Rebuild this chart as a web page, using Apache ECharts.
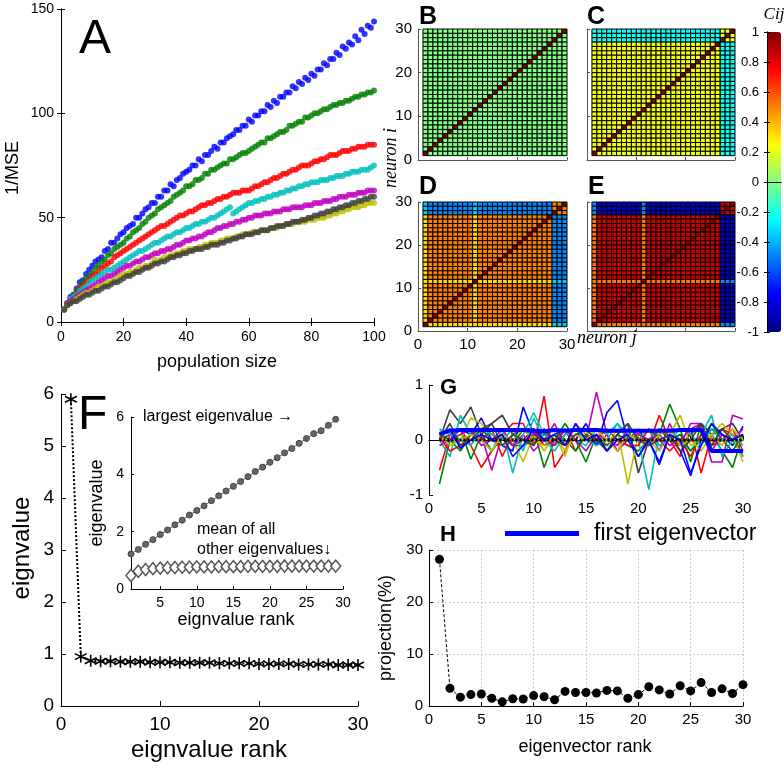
<!DOCTYPE html>
<html><head><meta charset="utf-8">
<script src="https://cdn.jsdelivr.net/npm/echarts@6/dist/echarts.min.js"></script>
<style>html,body{margin:0;padding:0;background:#fff}#c{width:784px;height:769px}</style>
</head><body><div id="c"></div>
<script>
// ---------- Panel A: 1/MSE vs population size (n = 1..100) ----------
const mseBlue = [6,9,12,13,16,19,20,23,25,27, 29,30,31,34,35,38,38,40,42,43, 45,46,47,50,50,52,54,55,57,57, 60,60,63,63,66,65,68,69,71,72, 73,75,75,78,77,80,80,82,84,83, 86,86,88,89,90,92,92,94,94,97, 96,99,99,101,101,104,103,106,105,108, 108,110,110,113,112,115,114,117,116,119, 118,121,121,124,123,126,126,129,128,132, 131,134,133,137,135,140,138,142,141,144];
const mseGreen = [6,8,11,13,15,17,19,21,22,24, 26,27,29,30,32,33,35,36,37,38, 40,41,43,44,45,47,48,50,51,52, 54,55,56,57,58,60,61,62,63,65, 65,66,68,68,69,71,71,73,73,74, 75,76,76,78,78,79,80,81,81,82, 83,84,85,86,86,88,88,89,90,91, 91,92,94,94,95,96,96,98,98,99, 100,100,101,102,102,103,104,104,105,105, 106,106,107,108,108,109,109,110,110,111];
const mseRed = [6,9,11,12,14,16,17,19,20,22, 23,24,26,27,28,29,31,32,33,34, 35,36,37,38,39,40,41,42,43,44, 45,46,46,47,48,49,50,51,51,52, 53,53,54,55,56,56,57,57,58,59, 59,60,60,61,62,62,62,63,63,63, 64,65,65,66,67,67,68,69,69,70, 71,71,72,73,73,74,75,75,75,76, 77,77,78,78,79,80,80,80,81,82, 82,82,83,83,84,84,84,85,85,85];
const mseCyan = [6,9,11,12,13,15,16,17,19,20, 21,22,23,24,25,25,26,27,28,29, 30,31,32,33,34,34,35,36,37,38, 38,39,40,41,41,42,43,43,44,45, 45,46,47,47,48,48,49,50,50,51, 52,53,54,55,52,53,54,55,56,57, 57,58,58,59,59,60,60,61,61,62, 62,63,63,64,64,65,65,66,66,67, 67,67,68,68,68,69,69,70,70,70, 71,71,72,72,72,73,73,73,74,75];
const mseMagenta = [6,9,10,11,12,13,14,15,16,17, 18,19,20,21,22,22,23,24,25,26, 27,27,28,29,29,30,31,31,32,33, 33,34,34,35,35,36,37,37,38,39, 39,40,40,41,41,42,43,43,44,45, 45,46,46,47,47,48,48,49,49,50, 50,51,51,51,52,52,52,53,53,53, 54,54,54,55,55,55,55,56,56,56, 57,57,57,58,58,58,59,59,60,60, 60,61,61,61,62,62,62,63,63,63];
const mseYellow = [6,8,9,10,11,12,13,14,14,15, 16,17,17,18,19,19,20,21,22,23, 23,24,24,25,26,26,27,27,28,30, 29,30,31,31,32,32,33,33,34,34, 35,35,35,36,36,37,37,38,38,38, 39,39,40,40,40,41,41,42,42,42, 43,43,43,44,44,44,45,45,45,46, 46,47,47,47,48,48,48,48,49,49, 49,50,50,50,51,51,52,52,53,53, 54,54,55,55,55,56,56,57,57,57];
const mseGray = [6,8,9,10,10,11,12,13,13,14, 15,15,16,17,17,18,19,19,20,21, 22,22,23,24,24,25,26,26,27,28, 28,29,29,30,31,31,32,32,33,33, 34,34,35,35,35,36,36,37,37,37, 38,38,39,39,40,40,41,41,42,42, 42,43,43,44,44,44,45,45,46,46, 46,47,47,48,48,48,49,49,50,50, 51,51,52,52,53,53,54,54,55,55, 56,56,57,57,58,58,59,59,60,60];
const mseSeries = [mseBlue, mseGreen, mseRed, mseCyan, mseMagenta, mseYellow, mseGray];
const mseColors = ['#0000ff','#008000','#ff0000','#00bfbf','#bf00bf','#bfbf00','#404040'];

// ---------- Panels B-E: correlation matrices (pcolor, 29x29 cells), rows top (29) to bottom (1) ----------
const cellPattern = [
 'c'+'bbbbbbbbb'+'c'+'bbbbbbbbbbbbbbb'+'ooX',
 'c'+'bbbbbbbbb'+'c'+'bbbbbbbbbbbbbbb'+'oXo',
 'c'+'bbbbbbbbb'+'c'+'bbbbbbbbbbbbbbb'+'Xoo',
 'y'+'ooooooooo'+'y'+'ooooooooooooooX'+'bbb',
 'y'+'ooooooooo'+'y'+'oooooooooooooXo'+'bbb',
 'y'+'ooooooooo'+'y'+'ooooooooooooXoo'+'bbb',
 'y'+'ooooooooo'+'y'+'oooooooooooXooo'+'bbb',
 'y'+'ooooooooo'+'y'+'ooooooooooXoooo'+'bbb',
 'y'+'ooooooooo'+'y'+'oooooooooXooooo'+'bbb',
 'y'+'ooooooooo'+'y'+'ooooooooXoooooo'+'bbb',
 'y'+'ooooooooo'+'y'+'oooooooXooooooo'+'bbb',
 'y'+'ooooooooo'+'y'+'ooooooXoooooooo'+'bbb',
 'y'+'ooooooooo'+'y'+'oooooXooooooooo'+'bbb',
 'y'+'ooooooooo'+'y'+'ooooXoooooooooo'+'bbb',
 'y'+'ooooooooo'+'y'+'oooXooooooooooo'+'bbb',
 'y'+'ooooooooo'+'y'+'ooXoooooooooooo'+'bbb',
 'y'+'ooooooooo'+'y'+'oXooooooooooooo'+'bbb',
 'y'+'ooooooooo'+'y'+'Xoooooooooooooo'+'bbb',
 'y'+'yyyyyyyyy'+'X'+'yyyyyyyyyyyyyyy'+'ccc',
 'y'+'ooooooooX'+'y'+'ooooooooooooooo'+'bbb',
 'y'+'oooooooXo'+'y'+'ooooooooooooooo'+'bbb',
 'y'+'ooooooXoo'+'y'+'ooooooooooooooo'+'bbb',
 'y'+'oooooXooo'+'y'+'ooooooooooooooo'+'bbb',
 'y'+'ooooXoooo'+'y'+'ooooooooooooooo'+'bbb',
 'y'+'oooXooooo'+'y'+'ooooooooooooooo'+'bbb',
 'y'+'ooXoooooo'+'y'+'ooooooooooooooo'+'bbb',
 'y'+'oXooooooo'+'y'+'ooooooooooooooo'+'bbb',
 'y'+'Xoooooooo'+'y'+'ooooooooooooooo'+'bbb',
 'X'+'yyyyyyyyy'+'y'+'yyyyyyyyyyyyyyy'+'ccc'
];
const levelsB = {X:1, o:0.0, y:0.0, b:0.0, c:0.0};
const levelsC = {X:1, o:0.23, y:0.22, b:-0.24, c:-0.22};
const levelsD = {X:1, o:0.5, y:0.32, b:-0.48, c:-0.35};
const levelsE = {X:1, o:0.85, y:0.52, b:-0.85, c:-0.48};
const jetColors = ['#000080','#0000ff','#0080ff','#00ffff','#80ff80','#ffff00','#ff8000','#ff0000','#800000'];

// ---------- Panel F ----------
const eigF = [5.9,0.95,0.87,0.86,0.86,0.85,0.85,0.85,0.84,0.84,0.84,0.83,0.83,0.83,0.83,0.82,0.82,0.82,0.82,0.81,0.81,0.81,0.81,0.8,0.8,0.8,0.8,0.79,0.79,0.79];
const insetLargest = [1.22,1.38,1.56,1.72,1.9,2.06,2.24,2.4,2.58,2.74,2.9,3.08,3.25,3.42,3.58,3.75,3.92,4.1,4.25,4.42,4.58,4.75,4.9,5.08,5.25,5.42,5.52,5.71,5.92];
const insetMeanOther = [0.47,0.62,0.68,0.71,0.73,0.74,0.75,0.76,0.76,0.77,0.77,0.77,0.78,0.78,0.78,0.78,0.79,0.79,0.79,0.79,0.79,0.8,0.8,0.8,0.8,0.8,0.8,0.8,0.8];
const insetTicks = [5,10,15,20,25,30];

// ---------- Panel G: eigenvectors ----------
const gLines = [
 [-0.55,0.1,0.2,-0.1,-0.5,-0.2,0.1,0.3,0.3,-0.1,0.8,-0.5,-0.2,0.3,0.1,-0.1,0.1,-0.2,0.1,0.0,-0.1,0.45,0.0,-0.3,0.2,-0.6,0.1,0.2,0.1,-0.3],
 [-0.8,0.0,0.2,-0.35,0.1,-0.2,0.05,-0.1,0.2,0.2,-0.5,0.0,0.3,0.0,-0.4,0.1,-0.2,0.0,-0.1,-0.2,0.0,0.1,0.65,0.2,-0.4,0.3,0.1,-0.2,-0.5,0.1],
 [0.0,0.55,0.3,0.6,0.1,0.3,0.45,0.1,0.2,0.0,0.2,-0.1,0.1,0.2,0.0,0.1,-0.1,0.1,0.3,-0.6,0.0,0.2,0.0,-0.1,0.1,0.3,0.1,0.2,0.3,0.0],
 [0.0,0.1,-0.1,0.0,0.1,-0.55,0.1,-0.1,0.1,-0.2,0.0,0.3,-0.1,0.1,0.0,0.87,0.1,-0.2,0.0,0.1,0.2,-0.2,0.3,-0.1,0.3,0.3,-0.4,-0.4,0.45,0.38],
 [0.1,0.0,0.2,0.1,0.4,0.0,-0.1,-0.2,0.6,0.1,0.0,0.1,0.2,0.0,0.3,-0.1,0.5,0.72,0.0,-0.3,0.0,-0.45,0.1,-0.2,-0.65,0.0,0.2,0.1,-0.1,0.25],
 [0.0,-0.3,0.45,0.1,0.0,-0.2,0.2,-0.6,0.1,0.5,0.1,-0.1,0.2,0.0,-0.1,0.2,0.1,0.3,0.0,0.0,-0.9,0.1,0.2,0.0,-0.2,0.1,0.45,-0.3,0.0,-0.3],
 [0.0,0.2,0.0,0.4,0.3,0.1,-0.1,0.0,-0.4,0.1,-0.2,0.1,-0.3,0.3,0.1,0.2,-0.1,0.2,-0.8,0.1,0.0,-0.2,0.1,0.45,-0.1,0.0,0.1,0.3,0.1,-0.4],
 [0.05,-0.2,-0.1,0.1,0.0,0.2,-0.3,0.1,0.0,0.2,-0.1,0.0,0.2,-0.2,0.1,0.0,0.2,0.0,-0.1,-0.1,0.2,0.0,-0.2,0.0,-0.3,0.1,-0.1,0.0,0.2,-0.2],
 [0.1,0.0,-0.2,0.1,0.2,0.0,0.1,-0.1,-0.1,0.0,0.1,0.2,0.0,-0.2,0.1,0.0,-0.1,0.1,0.0,0.2,-0.1,0.2,0.0,0.1,-0.2,0.0,0.3,0.0,-0.2,0.1],
 [0.2,0.1,0.0,-0.1,0.2,0.1,0.0,0.2,-0.2,0.4,0.0,-0.2,0.1,0.2,0.0,-0.1,0.0,0.3,0.1,0.0,0.2,-0.1,0.0,0.2,0.1,-0.1,0.2,0.0,0.1,-0.1],
 [-0.1,0.0,0.1,0.2,-0.1,0.0,0.2,-0.1,0.0,0.1,0.0,-0.1,0.2,0.0,-0.2,0.1,0.0,-0.1,0.2,0.1,0.0,0.1,-0.1,0.0,0.2,0.3,-0.2,0.1,0.0,0.2],
 [0.1,-0.1,0.0,0.1,0.0,-0.2,0.1,0.0,0.2,0.0,-0.1,0.1,-0.2,0.1,0.0,0.2,0.0,-0.2,0.1,0.0,-0.1,0.1,0.2,-0.1,0.0,-0.2,0.1,-0.1,0.2,0.0],
 [0.0,0.3,-0.1,0.0,0.2,0.3,-0.1,0.1,0.0,-0.1,0.2,0.0,-0.1,0.1,0.2,0.0,-0.2,0.1,0.3,0.0,-0.1,0.0,0.1,-0.2,0.0,0.3,-0.1,0.2,0.0,0.1],
 [0.1,0.2,-0.15,0.0,0.1,0.0,0.1,-0.3,-0.1,0.2,0.0,0.1,-0.1,0.3,0.0,0.1,-0.2,0.0,0.1,-0.3,0.0,-0.4,0.1,0.0,-0.6,-0.1,0.3,0.1,0.0,0.1]
];
const gColors = ['#ff0000','#008000','#404040','#bf00bf','#0000ff','#00bfbf','#bfbf00','#ff0000','#008000','#00bfbf','#bf00bf','#bfbf00','#404040','#0000ff'];
const firstEig = [0.11,0.17,0.18,0.18,0.18,0.18,0.18,0.18,0.18,0.17,0.16,0.18,0.17,0.18,0.18,0.18,0.17,0.17,0.17,0.17,0.17,0.17,0.17,0.18,0.18,0.18,-0.2,-0.2,-0.2,-0.2];
const zeroLine = [[1,0],[30,0]];

// ---------- Panel H ----------
const projH = [28.2,3.4,1.7,2.2,2.3,1.5,0.8,1.4,1.35,2.0,1.8,1.2,2.8,2.6,2.6,2.5,3.0,2.9,1.5,2.2,3.7,3.1,2.3,3.9,2.9,4.5,2.6,3.3,2.4,4.1];

// ---------- build ----------
const FONT = '"Liberation Sans", Arial, sans-serif';
const SERIF = '"Liberation Serif", "Times New Roman", serif';
const chart = echarts.init(document.getElementById('c'), null, {renderer:'canvas'});

function grid(l,t,w,h){ return {left:l, top:t, width:w, height:h, containLabel:false, outerBoundsMode:'none', show:false}; }
function axis(o){
  const base = {type:'value', axisLine:{show:true, lineStyle:{color:'#000', width:1}},
    axisTick:{show:true, inside:true, length:4, lineStyle:{color:'#000'}},
    splitLine:{show:false}, axisLabel:{show:false}};
  const r = Object.assign({}, base, o);
  if (o.lineColor) { r.axisLine = {show:true, lineStyle:{color:o.lineColor, width:1}}; r.axisTick = {show:true, inside:true, length:3, lineStyle:{color:o.lineColor}}; }
  return r;
}
function lab(size, margin, extra){ return Object.assign({show:true, color:'#000', fontSize:size, fontFamily:FONT, margin:margin}, extra||{}); }

const grids = [
  grid(61,9,313,313),      // 0 A
  grid(418,29,149,131),    // 1 B
  grid(587,29,148,131),    // 2 C
  grid(418,202,149,129),   // 3 D
  grid(587,202,148,129),   // 4 E
  grid(767,32,14,300),     // 5 colorbar
  grid(61,394,297,312),    // 6 F
  grid(131,417,212,172),   // 7 inset
  grid(429,385,314,110),   // 8 G
  grid(429,550,314,156)    // 9 H
];

const hm = {lineColor:'#555'};
const xAxes = [
  axis({gridIndex:0, min:0, max:100, interval:20, position:'bottom', axisLabel:lab(14,8)}),
  axis({gridIndex:0, min:0, max:100, interval:20, position:'top'}),
  axis(Object.assign({gridIndex:1, min:0, max:30, interval:10}, hm)),
  axis(Object.assign({gridIndex:2, min:0, max:30, interval:10}, hm)),
  axis(Object.assign({gridIndex:3, min:0, max:30, interval:10, axisLabel:lab(15,6)}, hm)),
  axis(Object.assign({gridIndex:4, min:0, max:30, interval:10}, hm)),
  axis({gridIndex:5, min:0, max:1, position:'bottom', axisTick:{show:false}, z:10}),
  axis({gridIndex:5, min:0, max:1, position:'top', axisTick:{show:false}, z:10}),
  axis({gridIndex:6, min:0, max:30, interval:10, axisLabel:lab(19,9), axisTick:{show:true, inside:true, length:5, lineStyle:{color:'#000'}}}),
  axis({gridIndex:7, min:1, max:30, axisLabel:lab(14,7,{customValues:insetTicks}), axisTick:{show:true, inside:true, length:3, customValues:insetTicks, lineStyle:{color:'#000'}}}),
  axis({gridIndex:8, min:0, max:30, interval:5, axisLabel:lab(15,6)}),
  axis({gridIndex:9, min:0, max:30, interval:5, axisLabel:lab(15,6), splitLine:{show:true, lineStyle:{color:'#c8c8c8', type:[2,2], width:1}}})
];
const yAxes = [
  axis({gridIndex:0, min:0, max:150, interval:50, position:'left', axisLabel:lab(14,7)}),
  axis({gridIndex:0, min:0, max:150, interval:50, position:'right'}),
  axis(Object.assign({gridIndex:1, min:0, max:30, interval:10, axisLabel:lab(15,6)}, hm)),
  axis(Object.assign({gridIndex:2, min:0, max:30, interval:10}, hm)),
  axis(Object.assign({gridIndex:3, min:0, max:30, interval:10, axisLabel:lab(15,6)}, hm)),
  axis(Object.assign({gridIndex:4, min:0, max:30, interval:10}, hm)),
  axis({gridIndex:5, min:-1, max:1, interval:0.2, position:'left', z:10,
        axisLabel:lab(13,8,{formatter:v=>String(Math.round(v*10)/10)}),
        axisTick:{show:true, inside:true, length:3, lineStyle:{color:'#000'}}}),
  axis({gridIndex:5, min:-1, max:1, interval:0.2, position:'right', z:10,
        axisTick:{show:true, inside:true, length:3, lineStyle:{color:'#000'}}}),
  axis({gridIndex:6, min:0, max:6, interval:1, axisLabel:lab(19,7), axisTick:{show:true, inside:true, length:5, lineStyle:{color:'#000'}}}),
  axis({gridIndex:7, min:0, max:6, interval:2, axisLabel:lab(14,7), axisTick:{show:true, inside:true, length:3, lineStyle:{color:'#000'}}}),
  axis({gridIndex:8, min:-1, max:1, interval:1, axisLabel:lab(15,6)}),
  axis({gridIndex:9, min:0, max:30, interval:10, axisLabel:lab(15,6), splitLine:{show:true, lineStyle:{color:'#c8c8c8', type:[2,2], width:1}}})
];

const series = [];
// A
mseSeries.forEach((vals, k) => {
  series.push({type:'scatter', xAxisIndex:0, yAxisIndex:0, symbol:'circle', symbolSize:6,
    itemStyle:{color:mseColors[k]}, data: vals.map((v,i)=>[i+1, v]), silent:true});
});
// B-E
function cells(levels){
  const out = [];
  for (let r = 0; r < cellPattern.length; r++) {
    const i = cellPattern.length - r;
    const row = cellPattern[r];
    for (let j = 1; j <= row.length; j++) out.push([j, i, levels[row[j-1]]]);
  }
  return out;
}
function rectRender(params, api){
  const x = api.value(0), y = api.value(1);
  const a = api.coord([x, y+1]), b = api.coord([x+1, y]);
  return {type:'rect', shape:{x:a[0], y:a[1], width:b[0]-a[0], height:b[1]-a[1]},
    style:{fill:api.visual('color'), stroke:'#000', lineWidth:1}};
}
[levelsB, levelsC, levelsD, levelsE].forEach((lv, k) => {
  series.push({type:'custom', xAxisIndex:2+k, yAxisIndex:2+k, dimensions:['j','i','c'], z:1,
    encode:{x:0, y:1}, data:cells(lv), renderItem:rectRender, silent:true});
});
// F
series.push({type:'line', xAxisIndex:8, yAxisIndex:8, data:eigF.map((v,i)=>[i+1,v]),
  symbol:'path://M0,-10L0,10M-8.66,-5L8.66,5M-8.66,5L8.66,-5', symbolSize:12,
  itemStyle:{color:'#000', borderColor:'#000', borderWidth:1.6},
  lineStyle:{color:'#000', width:2, type:[2,2]}, silent:true});
series.push({type:'line', xAxisIndex:9, yAxisIndex:9, data:insetLargest.map((v,i)=>[i+1,v]),
  symbol:'circle', symbolSize:6, itemStyle:{color:'#666', borderColor:'#444', borderWidth:1},
  lineStyle:{color:'#555', width:1}, silent:true});
series.push({type:'line', xAxisIndex:9, yAxisIndex:9, data:insetMeanOther.map((v,i)=>[i+1,v]),
  symbol:'diamond', symbolSize:[10,12], itemStyle:{color:'#fff', borderColor:'#555', borderWidth:1.5},
  lineStyle:{color:'#555', width:1}, silent:true});
// G
gLines.forEach((vals,k) => {
  series.push({type:'line', xAxisIndex:10, yAxisIndex:10, data:vals.map((v,i)=>[i+1,v]),
    showSymbol:false, symbol:'none', lineStyle:{color:gColors[k], width:1.6}, itemStyle:{color:gColors[k]}, silent:true});
});
series.push({name:'first eigenvector', type:'line', xAxisIndex:10, yAxisIndex:10, data:firstEig.map((v,i)=>[i+1,v]),
  showSymbol:false, symbol:'none', lineStyle:{color:'#0000ff', width:4}, itemStyle:{color:'#0000ff'}, silent:true});
series.push({type:'line', xAxisIndex:10, yAxisIndex:10, data:zeroLine, showSymbol:false, symbol:'none',
  lineStyle:{color:'#000', width:3, type:[2,2]}, silent:true});
// H
series.push({type:'line', xAxisIndex:11, yAxisIndex:11, data:projH.map((v,i)=>[i+1,v]),
  symbol:'circle', symbolSize:9, itemStyle:{color:'#000'}, lineStyle:{color:'#000', width:1, type:[3,2]}, silent:true});

function txt(text, x, y, size, o){
  o = o || {};
  const al = o.align || 'center';
  return {type:'text', x:x, y:y, rotation:o.rot||0, z:100, silent:true,
    style:{text:text, fontSize:size, fontFamily:o.family||FONT, fontWeight:o.weight||'normal',
      fontStyle:o.fstyle||'normal', fill:'#000', textAlign:al, textVerticalAlign:'middle', align:al, verticalAlign:'middle'}};
}
const R = Math.PI/2;
const graphics = [
  txt('A', 79, 40, 48, {align:'left'}),
  txt('1/MSE', 13, 168, 18, {rot:R}),
  txt('population size', 217, 362, 18),
  txt('B', 419, 17, 25, {align:'left', weight:'bold'}),
  txt('C', 587, 17, 25, {align:'left', weight:'bold'}),
  txt('D', 419, 187, 25, {align:'left', weight:'bold'}),
  txt('E', 588, 187, 25, {align:'left', weight:'bold'}),
  txt('neuron i', 391, 158, 18, {rot:R, family:SERIF, fstyle:'italic'}),
  txt('neuron j', 577, 338, 18, {align:'left', family:SERIF, fstyle:'italic'}),
  txt('Cij', 774, 15, 17, {family:SERIF, fstyle:'italic'}),
  txt('F', 78, 416, 48, {align:'left'}),
  txt('eignvalue', 22, 548, 24, {rot:R}),
  txt('eignvalue rank', 209, 750, 24),
  txt('eigenvalue', 97, 503, 18, {rot:R}),
  txt('eignvalue rank', 236, 620, 18),
  txt('largest eigenvalue \u2192', 143, 417, 16, {align:'left'}),
  txt('mean of all', 197, 530, 16, {align:'left'}),
  txt('other eigenvalues\u2193', 197, 550, 16, {align:'left'}),
  txt('G', 440, 388, 22, {align:'left', weight:'bold'}),
  txt('H', 440, 535, 22, {align:'left', weight:'bold'}),
  txt('eigenvector rank', 585, 747, 18),
  txt('projection(%)', 386, 628, 18, {rot:R})
];

chart.setOption({
  animation:false,
  backgroundColor:'#fff',
  textStyle:{fontFamily:FONT},
  grid:grids, xAxis:xAxes, yAxis:yAxes, series:series,
  visualMap:{type:'continuous', min:-1, max:1, dimension:2, seriesIndex:[7,8,9,10], calculable:false,
    show:true, orient:'vertical', left:767, top:32, itemWidth:14, itemHeight:300, padding:0,
    hoverLink:false, inRange:{color:jetColors}},
  legend:{show:true, data:[{name:'first eigenvector', icon:'rect'}], left:505, top:522, padding:0,
    itemWidth:74, itemHeight:5, selectedMode:false,
    textStyle:{fontSize:23, color:'#000', fontFamily:FONT, padding:[0,0,0,10]}},
  graphic:graphics
});
</script></body></html>
